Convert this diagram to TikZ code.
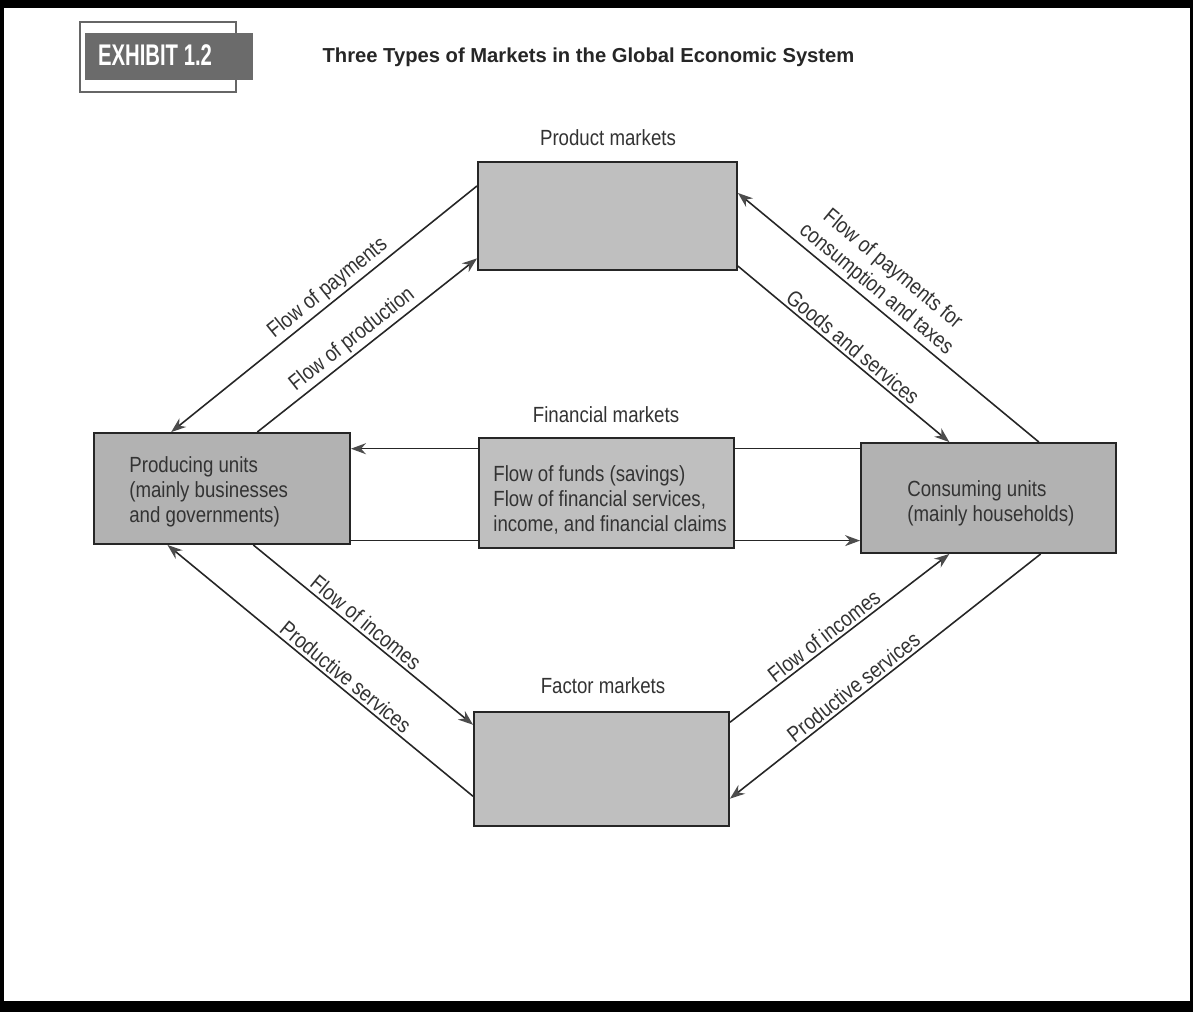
\documentclass[tikz,border=0pt]{standalone}
\usepackage{fontspec}
\setmainfont{Liberation Sans}[FakeStretch=0.85]
\newfontfamily\titlefont{Liberation Sans}
\newfontfamily\exhibitfont{Liberation Sans}[FakeStretch=0.68]
\usetikzlibrary{arrows, arrows.meta}

\tikzset{
  market/.style={draw=black!85, line width=1.1pt, fill=black!25,
    minimum width=5.1cm, minimum height=2.2cm, inner sep=0pt},
  unit/.style={market, fill=black!30},
  flow/.style={draw=black!85, line width=0.9pt,
    -{Stealth[length=0.3cm, width=0.22cm, color=black!70]}},
  lbl/.style={font=\fontsize{12.5}{14.6}\selectfont, text=black!80, sloped, inner sep=1.5pt},
  boxtext/.style={font=\fontsize{12.5}{14.2}\selectfont, text=black!80, align=left, inner sep=0pt}
}

\begin{document}
\begin{tikzpicture}[x=0.02cm, y=-0.02cm]
\useasboundingbox (0,0) rectangle (1193,1012);
\fill[black] (0,0) rectangle (1193,1012);
\fill[white] (4,8) rectangle (1190,1001);

% heading
\draw[black!60, line width=0.6pt] (80,22) rectangle (236,92);
\node[fill=black!58, minimum width=3.36cm, minimum height=0.94cm, inner sep=0pt] (exhibit) at (169,56.5) {};
\node[anchor=base, text=white, font=\exhibitfont\bfseries\fontsize{17}{17}\selectfont] (exhibitlabel) at (155,65) {EXHIBIT 1.2};
\node[anchor=base, text=black!85, font=\titlefont\bfseries\fontsize{11.5}{12}\selectfont] (title) at (588.5,62) {Three Types of Markets in the Global Economic System};

% the five boxes
\node[market, minimum width=5.18cm, minimum height=2.16cm] (product) at (607.5,216) {};
\node[anchor=base, boxtext] (productlabel) at (608,145) {Product markets};
\node[market, minimum height=2.28cm] (factor) at (601.5,769) {};
\node[anchor=base, boxtext] (factorlabel) at (603,693) {Factor markets};
\node[unit, minimum width=5.12cm, minimum height=2.22cm] (producing) at (222,488.5) {};
\node[boxtext, anchor=west] (producingtext) at (129,492) {Producing units\\(mainly businesses\\and governments)};
\node[unit] (consuming) at (988.5,498) {};
\node[boxtext, anchor=west] (consumingtext) at (907,503) {Consuming units\\(mainly households)};

% financial flows run behind the middle box
\draw[flow] (consuming.159.4) -- (consuming.159.4 -| producing.east);
\draw[flow] (producing.338.9) -- (producing.338.9 -| consuming.west);
\node[market] (financial) at (606.5,493) {};
\node[anchor=base, boxtext] (financiallabel) at (606,422) {Financial markets};
\node[boxtext, anchor=west] (financialtext) at (493,500) {Flow of funds (savings)\\Flow of financial services,\\income, and financial claims};

% product market flows
\draw[flow] (product.167.4) -- node[lbl, above, pos=0.46] (lpayments) {Flow of payments} (producing.132);
\draw[flow] (producing.58.5) -- node[lbl, above, pos=0.47] (lproduction) {Flow of production} (product.198.8);
\draw[flow] (consuming.48.6) -- node[lbl, above, align=center, pos=0.57] (lconsumption) {Flow of payments for\\consumption and taxes} (product.10.1);
\draw[flow] (product.339.7) -- node[lbl, above, pos=0.51] (lgoods) {Goods and services} (consuming.125.7);

% factor market flows
\draw[flow] (producing.299.2) -- node[lbl, above, pos=0.48] (lincomesleft) {Flow of incomes} (factor.161.8);
\draw[flow] (factor.192.8) -- node[lbl, above, pos=0.44] (lservicesleft) {Productive services} (producing.226.3);
\draw[flow] (factor.20.2) -- node[lbl, above, pos=0.46] (lincomesright) {Flow of incomes} (consuming.235);
\draw[flow] (consuming.313.1) -- node[lbl, above, pos=0.58] (lservicesright) {Productive services} (factor.347.2);
\end{tikzpicture}
\end{document}
